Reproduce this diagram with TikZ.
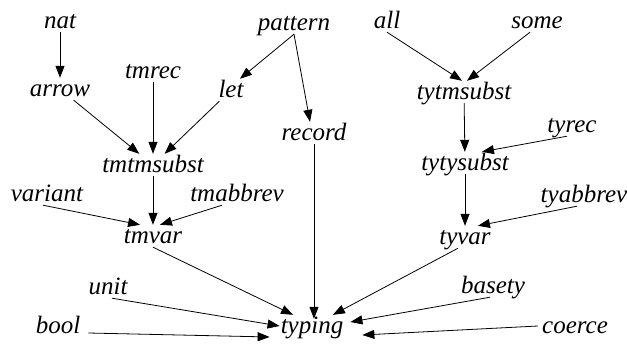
\documentclass[tikz,border=0pt]{standalone}
\usepackage{fontspec}
\setmainfont{Liberation Serif}[ItalicFont={Liberation Serif Italic}]
\usetikzlibrary{arrows.meta}
\begin{document}
\begin{tikzpicture}[x=1bp, y=1bp,
    term/.style={anchor=base, inner sep=1bp, text height=17bp, text depth=3bp,
      font=\fontsize{25bp}{30bp}\selectfont\itshape},
    dep/.style={-{Triangle[length=12bp, width=9bp]}, line width=0.8bp}]
  \useasboundingbox (0,0) rectangle (627,350);

  % Modules
  \foreach \pos/\name in {{(60,322)/nat}, {(294,320)/pattern}, {(387,322)/all}, {(537,322)/some},
      {(60,254)/arrow}, {(153,272)/tmrec}, {(231,253)/let}, {(314,210)/record},
      {(464,251)/tytmsubst}, {(572,218)/tyrec}, {(153,178)/tmtmsubst}, {(465,180)/tytysubst},
      {(47,149)/variant}, {(237,149)/tmabbrev}, {(584,148)/tyabbrev},
      {(153,107)/tmvar}, {(465,106)/tyvar}, {(108,56)/unit}, {(493,57)/basety},
      {(58,17)/bool}, {(312,17)/typing}, {(575,17)/coerce}} {
    \node[term] (\name) at \pos {\name};
  }

  % Straight dependencies
  \foreach \source/\target in {nat/arrow, arrow/tmtmsubst, tmrec/tmtmsubst, let/tmtmsubst,
      tmtmsubst/tmvar, tytmsubst/tytysubst, tytysubst/tyvar} {
    \draw[dep] (\source) -- (\target);
  }

  % Term side
  \draw[dep] (pattern.south) -- ([xshift=9]let.north);
  \draw[dep] (pattern.south) -- ([xshift=-4]record.north);
  \draw[dep] ([xshift=-4]variant.south) -- ([xshift=-13]tmvar.north);
  \draw[dep] ([xshift=-15]tmabbrev.south) -- ([xshift=7]tmvar.north);

  % Type side
  \draw[dep] (all.south) -- ([xshift=-2]tytmsubst.north);
  \draw[dep] ([xshift=-7]some.south) -- ([xshift=3]tytmsubst.north);
  \draw[dep] ([xshift=-5]tyrec.south) -- ([xshift=17]tytysubst.north);
  \draw[dep] ([xshift=-7]tyabbrev.south) -- ([xshift=13]tyvar.north);

  % Into typing
  \draw[dep] (tmvar.south) -- ([xshift=-19]typing.north);
  \draw[dep] ([xshift=4]unit.south) -- (typing.west);
  \draw[dep] ([xshift=7]bool.base east) -- ([xshift=-10,yshift=-4]typing.base west);
  \draw[dep] (record.south) -- ([yshift=-4]record.south |- typing.north);
  \draw[dep] ([xshift=-7]tyvar.south) -- ([xshift=21]typing.north);
  \draw[dep] ([xshift=-3]basety.south) -- ([xshift=6,yshift=4]typing.east);
  \draw[dep] ([xshift=-3]coerce.west) -- ([xshift=18,yshift=-2]typing.base east);
\end{tikzpicture}
\end{document}
